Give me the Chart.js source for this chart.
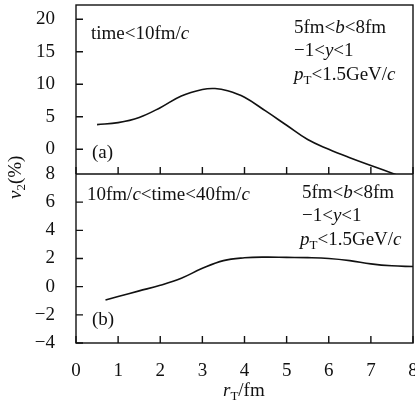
<!DOCTYPE html>
<html>
<head>
<meta charset="utf-8">
<script src="https://cdn.jsdelivr.net/npm/chart.js@4/dist/chart.umd.min.js"></script>
<style>
html, body { margin: 0; padding: 0; background: #fff; }
canvas { display: block; }
</style>
</head>
<body>
<canvas id="v2chart" width="415" height="407"></canvas>
<script>
'use strict'

// panel (a): time<10fm/c
var rT_a = [0.5, 1, 1.5, 2, 2.5, 3, 3.3, 3.6, 4, 4.5, 5, 5.5, 6, 6.5, 7, 7.6];
var v2_a = [3.8, 4.1, 4.9, 6.4, 8.2, 9.2, 9.35, 9.0, 8.0, 5.9, 3.7, 1.5, 0.0, -1.3, -2.5, -3.9];

// panel (b): 10fm/c<time<40fm/c
var rT_b = [0.7, 1, 1.5, 2, 2.5, 3, 3.5, 4, 4.5, 5, 5.5, 6, 6.5, 7, 7.5, 8];
var v2_b = [-0.95, -0.7, -0.3, 0.1, 0.6, 1.3, 1.85, 2.05, 2.1, 2.08, 2.06, 2.0, 1.85, 1.62, 1.48, 1.43];

var xTicks = [0, 1, 2, 3, 4, 5, 6, 7, 8];
var yTicks_a = [0, 5, 10, 15, 20];
var yTicks_b = [-4, -2, 0, 2, 4, 6, 8];

var FONT = 'Liberation Serif';
var INK = '#111';

function pts(xs, ys) {
  var out = [];
  for (var i = 0; i < xs.length; i++) out.push({x: xs[i], y: ys[i]});
  return out;
}

function fixTicks(list) {
  return function (scale) {
    scale.ticks = list.map(function (v) { return {value: v}; });
  };
}

function minus(v) { return v < 0 ? '\u2212' + Math.abs(v) : String(v); }

function fitY(s) {
  s.width = 76;
  s.paddingTop = 0;
  s.paddingBottom = 0;
}

// draw a run of text pieces: [text, kind] kind: n normal, i italic, s subscript
function drawRuns(ctx, x, y, parts, size) {
  var cx = x;
  parts.forEach(function (p) {
    var t = p[0], k = p[1];
    var fs = size, dy = 0, st = '';
    if (k === 'i') st = 'italic ';
    if (k === 's') { fs = Math.round(size * 0.7); dy = size * 0.22; }
    ctx.font = st + fs + 'px "' + FONT + '"';
    ctx.fillText(t, cx, y + dy);
    cx += ctx.measureText(t).width;
  });
}

var decor = {
  id: 'decor',
  afterDraw: function (chart) {
    var ctx = chart.ctx, ca = chart.chartArea;
    var sx = chart.scales.x, ya = chart.scales.ya, yb = chart.scales.yb;
    var mid = yb.top;
    ctx.save();
    ctx.strokeStyle = INK;
    ctx.lineWidth = 1.4;
    ctx.strokeRect(ca.left, ca.top, ca.right - ca.left, ca.bottom - ca.top);
    ctx.beginPath();
    ctx.moveTo(ca.left, mid); ctx.lineTo(ca.right, mid);
    // inward ticks
    sx.ticks.forEach(function (t) {
      var px = sx.getPixelForValue(t.value);
      ctx.moveTo(px, ca.bottom); ctx.lineTo(px, ca.bottom - 7);
      ctx.moveTo(px, mid); ctx.lineTo(px, mid - 7);
    });
    [ya, yb].forEach(function (s) {
      s.ticks.forEach(function (t) {
        var py = s.getPixelForValue(t.value);
        ctx.moveTo(ca.left, py); ctx.lineTo(ca.left + 7, py);
      });
    });
    ctx.stroke();

    ctx.fillStyle = INK;
    ctx.textBaseline = 'alphabetic';
    ctx.textAlign = 'left';
    var fs = 19;
    // panel (a)
    drawRuns(ctx, 91, 39, [['time<10fm/', 'n'], ['c', 'i']], fs);
    drawRuns(ctx, 294, 33, [['5fm<', 'n'], ['b', 'i'], ['<8fm', 'n']], fs);
    drawRuns(ctx, 294, 56, [['\u22121<', 'n'], ['y', 'i'], ['<1', 'n']], fs);
    drawRuns(ctx, 294, 80, [['p', 'i'], ['T', 's'], ['<1.5GeV/', 'n'], ['c', 'i']], fs);
    drawRuns(ctx, 92, 158, [['(a)', 'n']], fs);
    // panel (b)
    drawRuns(ctx, 87, 200, [['10fm/', 'n'], ['c', 'i'], ['<time<40fm/', 'n'], ['c', 'i']], fs);
    drawRuns(ctx, 302, 198, [['5fm<', 'n'], ['b', 'i'], ['<8fm', 'n']], fs);
    drawRuns(ctx, 302, 221, [['\u22121<', 'n'], ['y', 'i'], ['<1', 'n']], fs);
    drawRuns(ctx, 300, 245, [['p', 'i'], ['T', 's'], ['<1.5GeV/', 'n'], ['c', 'i']], fs);
    drawRuns(ctx, 92, 325, [['(b)', 'n']], fs);

    // axis titles
    drawRuns(ctx, 223, 396, [['r', 'i'], ['T', 's'], ['/fm', 'n']], 19);
    ctx.translate(21, 199);
    ctx.rotate(-Math.PI / 2);
    drawRuns(ctx, 0, 0, [['v', 'i'], ['2', 's'], ['(%)', 'n']], 19);
    ctx.restore();
  }
};

var tickFont = {family: FONT, size: 19};

var ctx = document.getElementById('v2chart');
var mychart = new Chart(ctx, {
  type: 'line',
  data: {
    datasets: [{
      label: 'a',
      data: pts(rT_a, v2_a),
      yAxisID: 'ya',
      borderColor: INK,
      borderWidth: 1.6,
      pointRadius: 0,
      tension: 0.4,
      fill: false
    }, {
      label: 'b',
      data: pts(rT_b, v2_b),
      yAxisID: 'yb',
      borderColor: INK,
      borderWidth: 1.6,
      pointRadius: 0,
      tension: 0.4,
      fill: false
    }]
  },
  options: {
    responsive: false,
    animation: false,
    layout: {padding: {top: 5, right: 2, left: 0, bottom: 0}},
    plugins: {legend: {display: false}, tooltip: {enabled: false}},
    scales: {
      x: {
        type: 'linear',
        min: 0,
        max: 8,
        afterBuildTicks: fixTicks(xTicks),
        afterFit: function (s) { s.height = 64; s.paddingRight = 0; s.paddingLeft = 0; },
        grid: {display: false},
        border: {display: false},
        ticks: {font: tickFont, color: INK, padding: 9, maxRotation: 0, autoSkip: false}
      },
      yb: {
        type: 'linear',
        position: 'left',
        stack: 'v2',
        stackWeight: 1,
        min: -4,
        max: 8,
        afterBuildTicks: fixTicks(yTicks_b),
        afterFit: fitY,
        grid: {display: false},
        border: {display: false},
        ticks: {font: tickFont, color: INK, padding: 13, autoSkip: false, callback: minus}
      },
      ya: {
        type: 'linear',
        position: 'left',
        stack: 'v2',
        stackWeight: 1,
        min: -3.8,
        max: 22.2,
        afterBuildTicks: fixTicks(yTicks_a),
        afterFit: fitY,
        grid: {display: false},
        border: {display: false},
        ticks: {font: tickFont, color: INK, padding: 13, autoSkip: false, callback: minus}
      }
    }
  },
  plugins: [decor]
});
</script>
</body>
</html>
